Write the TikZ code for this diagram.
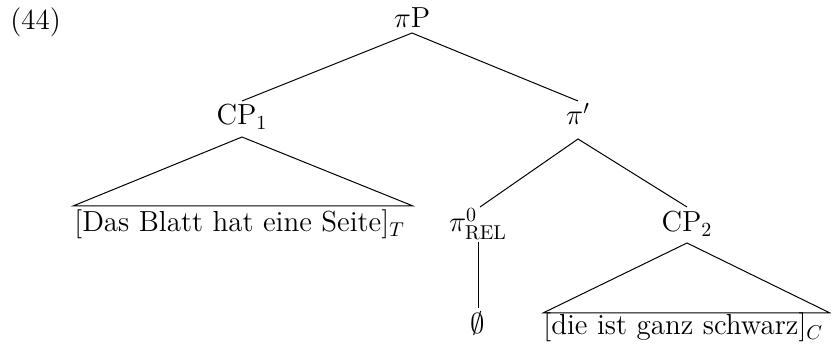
\documentclass[tikz,border=0pt]{standalone}
\begin{document}
\begin{tikzpicture}[x=0.5pt,y=-0.5pt,
  lbl/.style={inner sep=0pt, anchor=base, font=\fontsize{14.5}{17}\selectfont},
  leaf/.style={inner sep=0pt, anchor=base west, font=\fontsize{14.5}{17}\selectfont},
  br/.style={line width=0.5pt}]
\useasboundingbox (0,0) rectangle (831,347);
% labels
\node[leaf] (ex) at (10,30) {(44)};
\node[lbl] (piP) at (412,28) {$\pi$P};
\node[lbl] (cp1) at (242,125) {CP$_1$};
\node[lbl] (pib) at (578,125) {$\pi'$};
\node[leaf] (t1) at (74,232) {[Das Blatt hat eine Seite]$_T$};
\node[lbl] (pi0) at (478,232) {$\pi^0_{\mathrm{REL}}$};
\node[lbl] (cp2) at (687,232) {CP$_2$};
\node[lbl] (empty) at (478,334) {$\emptyset$};
\node[leaf] (t2) at (543,335) {[die ist ganz schwarz]$_C$};
% attachment points
\coordinate (piP-b) at (412,33);
\coordinate (cp1-t) at (242,101);
\coordinate (cp1-b) at (242,137);
\coordinate (pib-t) at (578,101);
\coordinate (pib-b) at (578,139);
\coordinate (pi0-t) at (480,207);
\coordinate (pi0-b) at (478,242);
\coordinate (empty-t) at (478,308);
\coordinate (cp2-t) at (687,207);
\coordinate (cp2-b) at (687,243);
\coordinate (t1-l) at (73,206);
\coordinate (t1-r) at (413,206);
\coordinate (t2-l) at (543,313);
\coordinate (t2-r) at (830,313);
% branches
\draw[br] (cp1-t) -- (piP-b) -- (pib-t);
\draw[br] (t1-l) -- (cp1-b) -- (t1-r) -- cycle;
\draw[br] (pi0-t) -- (pib-b) -- (cp2-t);
\draw[br] (pi0-b) -- (empty-t);
\draw[br] (t2-l) -- (cp2-b) -- (t2-r) -- cycle;
\end{tikzpicture}
\end{document}
